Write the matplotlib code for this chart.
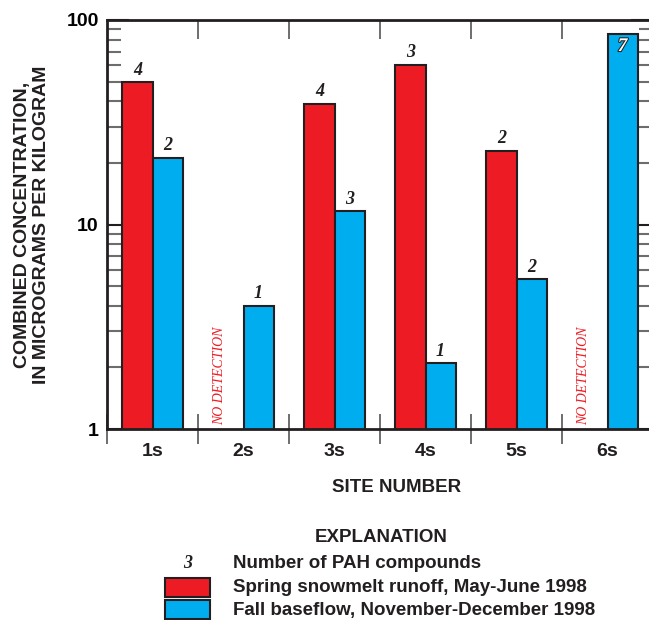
import numpy as np
import matplotlib.pyplot as plt
import matplotlib.patheffects as pe
from matplotlib.patches import Rectangle

# data
sites = ['1s', '2s', '3s', '4s', '5s', '6s']
spring = [49.5, np.nan, 39.0, 60.5, 23.0, np.nan]
fall = [21.2, 4.0, 11.6, 2.1, 5.4, 85.0]
spring_n = ['4', '', '4', '3', '2', '']
fall_n = ['2', '1', '3', '1', '2', '7']

red = '#ED1C24'
blue = '#00AEEF'
edge = '#231F20'
sans = 'Liberation Sans'
serif = 'Liberation Serif'

fig = plt.figure(figsize=(6.49, 6.2), dpi=100)
ax = fig.add_axes([107/649, 191/620, 546/649, 409/620])

x = np.arange(1, 7)
w = 0.33
ax.bar(x - w/2, spring, w, color=red, edgecolor=edge, linewidth=1.5, zorder=2)
ax.bar(x + w/2, fall, w, color=blue, edgecolor=edge, linewidth=1.5, zorder=2)

ax.set_yscale('log')
ax.set_ylim(1, 100)
ax.set_xlim(0.5, 6.5)

# PAH counts
for i in range(6):
    if spring_n[i]:
        ax.text(x[i] - w/2, spring[i]*1.04, spring_n[i], ha='center', va='bottom',
                fontsize=13, fontweight='bold', fontstyle='italic', family=serif, color=edge)
    else:
        ax.text(x[i] - w/2 - 0.1, 1.05, 'NO DETECTION', rotation=90, ha='center', va='bottom',
                fontsize=10, fontstyle='italic', family=serif, color=red)
for i in range(6):
    if i == 5:
        t = ax.text(x[i] + w/2, fall[i]*0.96, fall_n[i], ha='center', va='top',
                    fontsize=14, fontweight='bold', fontstyle='italic', family=serif, color='white')
        t.set_path_effects([pe.withStroke(linewidth=1.5, foreground=edge)])
    else:
        ax.text(x[i] + w/2, fall[i]*1.04, fall_n[i], ha='center', va='bottom',
                fontsize=13, fontweight='bold', fontstyle='italic', family=serif, color=edge)

# axes styling
for s in ax.spines.values():
    s.set_linewidth(2)
    s.set_color(edge)

ax.set_yticks([1, 10, 100])
ax.set_yticklabels(['1', '10', '100'], fontsize=14, fontweight='bold', family=sans)
ax.tick_params(axis='y', which='major', direction='in', length=16, width=1.5, color=edge,
               right=True, pad=6)
ax.tick_params(axis='y', which='minor', direction='in', length=10, width=1.5, color='#6d6d6d',
               right=True)
ax.tick_params(axis='y', which='minor', labelleft=False)

# site separators: through the bottom spine, inward from the top spine
ax.set_xticks(np.arange(0.5, 6.5, 1))
ax.set_xticklabels([])
ax.tick_params(axis='x', which='major', direction='inout', length=22, width=1.2, color='#555555',
               top=False)
top = ax.secondary_xaxis('top')
top.set_xticks(np.arange(1.5, 6.5, 1))
top.set_xticklabels([])
top.tick_params(direction='in', length=14, width=1.2, color='#555555')
top.spines['top'].set_visible(False)

for i, s in enumerate(sites):
    ax.text(x[i], -0.035, s, transform=ax.get_xaxis_transform(), ha='center', va='top',
            fontsize=14, fontweight='bold', family=sans, color=edge)

fig.text(397/649, 1 - 487/620, 'SITE NUMBER', ha='center', va='center',
         fontsize=13.5, fontweight='bold', family=sans, color=edge)
fig.text(32/649, 1 - 225/620, 'COMBINED CONCENTRATION,\nIN MICROGRAMS PER KILOGRAM',
         rotation=90, ha='center', va='center', multialignment='center', linespacing=1.1,
         fontsize=14, fontweight='bold', family=sans, color=edge)

# explanation
fig.text(381/649, 1 - 538/620, 'EXPLANATION', ha='center', va='center',
         fontsize=13.5, fontweight='bold', family=sans, color=edge)
fig.text(188/649, 1 - 563/620, '3', ha='center', va='center',
         fontsize=13, fontweight='bold', fontstyle='italic', family=serif, color=edge)
fig.text(233/649, 1 - 563/620, 'Number of PAH compounds', ha='left', va='center',
         fontsize=13.5, fontweight='bold', family=sans, color=edge)
fig.patches.append(Rectangle((165/649, 1 - 597/620), 45/649, 19/620, transform=fig.transFigure,
                             facecolor=red, edgecolor=edge, linewidth=1.5))
fig.text(233/649, 1 - 587/620, 'Spring snowmelt runoff, May-June 1998', ha='left', va='center',
         fontsize=13.5, fontweight='bold', family=sans, color=edge)
fig.patches.append(Rectangle((165/649, 1 - 619/620), 45/649, 19/620, transform=fig.transFigure,
                             facecolor=blue, edgecolor=edge, linewidth=1.5))
fig.text(233/649, 1 - 610/620, 'Fall baseflow, November-December 1998', ha='left', va='center',
         fontsize=13.5, fontweight='bold', family=sans, color=edge)

fig.savefig('out.png', dpi=100)
